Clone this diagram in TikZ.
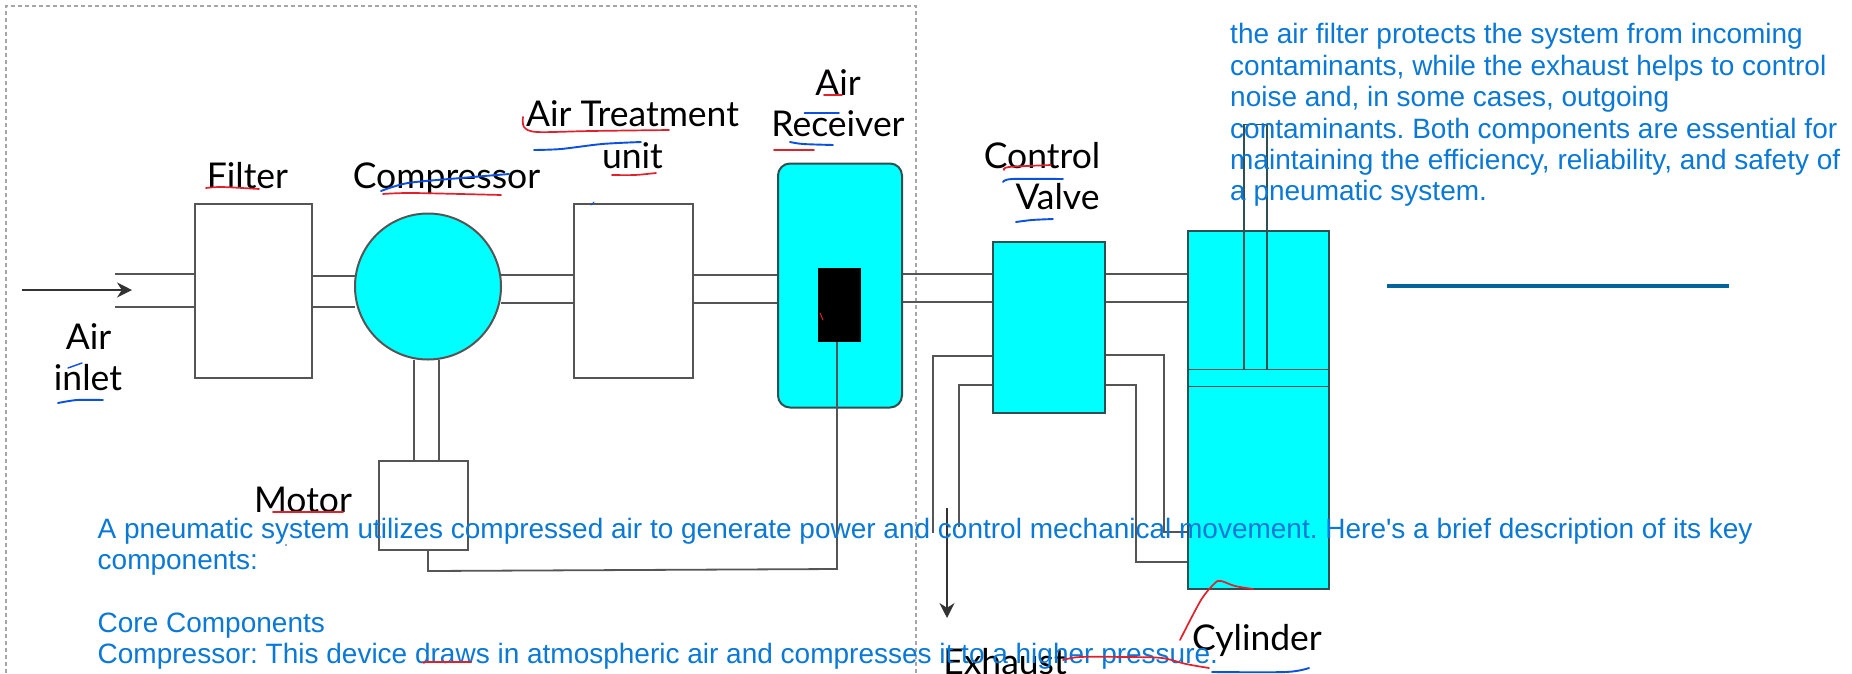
\documentclass[tikz,border=0pt]{standalone}
\usepackage{fontspec}
\setmainfont{Liberation Sans}
\newfontfamily\parafont[Ligatures=ResetAll]{Liberation Sans}
\newfontfamily\labelfont{Lato}
\usetikzlibrary{arrows.meta,backgrounds}
\definecolor{txtblue}{HTML}{0A78D6}
\definecolor{inkred}{HTML}{E2202C}
\definecolor{inkblue}{HTML}{0B50E0}
\definecolor{linegray}{HTML}{555555}
\definecolor{cyanfill}{HTML}{00FFFF}
\definecolor{cyanedge}{HTML}{2F4F50}
\definecolor{barblue}{HTML}{00659C}
\tikzset{
  x=1pt,y=-1pt,
  box/.style={draw=linegray,line width=2pt,fill=white,inner sep=0,outer sep=0},
  cyanbox/.style={box,fill=cyanfill,draw=cyanedge},
  pipe/.style={draw=linegray,line width=2.2pt},
  flowtip/.style={draw=black!80,line width=2pt,-{Stealth[length=15pt,width=15pt]}},
  lbl/.style={font=\labelfont\fontsize{35.5}{36}\selectfont,text=black,inner sep=0,anchor=base},
  para/.style={font=\parafont\frenchspacing\fontsize{28}{31.4}\selectfont,text=txtblue,inner sep=0,anchor=north west,align=left},
  redink/.style={draw=inkred,line width=1.7pt,line cap=round},
  blueink/.style={draw=inkblue,line width=1.9pt,line cap=round},
}
\begin{document}
\begin{tikzpicture}
\path[use as bounding box,clip] (0,0) rectangle (1852,673);

% equipment
\node[box,minimum width=117pt,minimum height=174pt] (filter) at (253.5,290.5) {};
\node[circle,draw=linegray,line width=2pt,fill=cyanfill,inner sep=0,outer sep=0,minimum size=146pt] (comp) at (428,286.5) {};
\node[box,minimum width=119pt,minimum height=174pt] (treat) at (633.5,290.5) {};
\node[cyanbox,rounded corners=12pt,minimum width=124pt,minimum height=244pt] (recv) at (840,285.5) {};
\node[fill=black,inner sep=0,outer sep=0,minimum width=42.5pt,minimum height=74pt] (core) at (839.5,305) {};
\node[cyanbox,minimum width=112pt,minimum height=171pt] (valve) at (1049,327) {};
\node[cyanbox,minimum width=141pt,minimum height=358pt] (cyl) at (1258.5,409.5) {};
\node[draw=cyanedge,line width=1.8pt,inner sep=0,outer sep=0,minimum width=141pt,minimum height=17pt] (piston) at (1258.5,378) {};
\node[draw=cyanedge,line width=1.8pt,inner sep=0,outer sep=0,minimum width=23pt,minimum height=245pt] (rod) at (1255.5,247) {};
\node[box,minimum width=89pt,minimum height=89pt] (motor) at (423.5,505) {};

% free ends
\coordinate (inA) at (115,274);
\coordinate (inB) at (115,307);
\coordinate (arrA) at (22,290);
\coordinate (arrB) at (132,290);
\coordinate (exA) at (947,508);
\coordinate (exB) at (947,618);
\coordinate (barA) at (1387,286);
\coordinate (barB) at (1729,286);
\coordinate (outerEnd) at (933,533);
\coordinate (innerEnd) at (959,527);
\coordinate (frameTL) at (6,6);

\begin{scope}[on background layer]
  \draw[dashed,draw=black!35,line width=1.3pt,dash pattern=on 4pt off 3pt] (6,673) -- (frameTL) -- (916,6) -- (916,673);
  \draw[pipe] (inA) -- (inA -| filter.west);
  \draw[pipe] (inB) -- (inB -| filter.west);
  \draw[pipe] (filter.east |- 0,276) -- (comp.west |- 0,276);
  \draw[pipe] (filter.east |- 0,307) -- (comp.west |- 0,307);
  \draw[pipe] (comp.east |- 0,275) -- (treat.west |- 0,275);
  \draw[pipe] (comp.east |- 0,303) -- (treat.west |- 0,303);
  \draw[pipe] (treat.east |- 0,275) -- (recv.west |- 0,275);
  \draw[pipe] (treat.east |- 0,303) -- (recv.west |- 0,303);
  \draw[pipe] (recv.east |- 0,274) -- (valve.west |- 0,274);
  \draw[pipe] (recv.east |- 0,302) -- (valve.west |- 0,302);
  \draw[pipe] (valve.east |- 0,274) -- (cyl.west |- 0,274);
  \draw[pipe] (valve.east |- 0,302) -- (cyl.west |- 0,302);
  \draw[pipe] (comp.south -| 414,0) -- (motor.north -| 414,0);
  \draw[pipe] (comp.south -| 439,0) -- (motor.north -| 439,0);
  \draw[pipe] (valve.west |- 0,356) -- (933,356) -- (outerEnd);
  \draw[pipe] (valve.west |- 0,385) -- (959,385) -- (innerEnd);
  \draw[pipe] (valve.east |- 0,355) -- (1164,355) -- (1164,532) -- (cyl.west |- 0,532);
  \draw[pipe] (valve.east |- 0,385) -- (1136,385) -- (1136,562) -- (cyl.west |- 0,562);
\end{scope}
\draw[pipe,line width=1.8pt] (core.south -| 837,0) -- (837,569) -- (428,571) -- (motor.south -| 428,0);
\draw[flowtip] (arrA) -- (arrB);
\draw[flowtip] (exA) -- (exB);
\draw[draw=barblue,line width=4pt] (barA) -- (barB);

% labels
\node[lbl] (lAir1) at (838,95) {Air};
\node[lbl] (lRecv) at (838,136) {Receiver};
\node[lbl] (lTreat) at (632.5,126) {Air Treatment};
\node[lbl] (lUnit) at (632.5,168) {unit};
\node[lbl] (lFilter) at (247.5,188) {Filter};
\node[lbl] (lComp) at (446.5,188) {Compressor};
\node[lbl] (lAir2) at (88.5,349) {Air};
\node[lbl] (lInlet) at (88,390) {inlet};
\node[lbl] (lCtrl) at (1042,168) {Control};
\node[lbl] (lValve) at (1057.5,209) {Valve};
\node[lbl] (lMotor) at (303,512) {Motor};
\node[lbl] (lCyl) at (1257,650) {Cylinder};
\node[lbl] (lExh) at (1005,674) {Exhaust};

% overlaid text
\node[para] (noteTop) at (1230,23.5) {the air filter protects the system from incoming\\
contaminants, while the exhaust helps to control\\
noise and, in some cases, outgoing\\
contaminants. Both components are essential for\\
maintaining the efficiency, reliability, and safety of\\
a pneumatic system.};
\node[para] (noteBottom) at (97.5,517.5) {A pneumatic system utilizes compressed air to generate power and control mechanical movement. Here's a brief description of its key\\
components:\\[31.4pt]
Core Components\\
Compressor: This device draws in atmospheric air and compresses it to a higher pressure.};

% handwritten marks
\draw[redink] plot[smooth] coordinates {(206,188) (222,187) (259,189)};
\draw[redink] plot[smooth] coordinates {(383,194) (413,193) (501,195)};
\draw[blueink] plot[smooth] coordinates {(381,191) (408,183) (461,178) (509,174)};
\draw[redink] plot[smooth] coordinates {(523,117) (524,127) (537,132) (591,131) (669,130)};
\draw[blueink] plot[smooth] coordinates {(534,150) (561,149) (602,144) (641,142)};
\draw[redink] plot[smooth] coordinates {(612,175) (635,175) (656,173)};
\draw[blueink,line width=1pt] (591,205) -- (594,202);
\draw[redink] (824,95) -- (842,95);
\draw[blueink] (804.5,113) -- (839,113);
\draw[blueink] plot[smooth] coordinates {(790,142) (803,144) (833,145)};
\draw[redink] (774,150) -- (814,150);
\draw[redink,line width=1pt] (820,313) -- (823,320);
\draw[blueink,line width=1.4pt] (68,368) -- (82,363);
\draw[blueink] plot[smooth] coordinates {(58,403) (77,400) (103,400)};
\draw[redink] plot[smooth] coordinates {(1004,170) (1009,167) (1051,165)};
\draw[blueink] plot[smooth] coordinates {(1003,182) (1012,179) (1063,179)};
\draw[blueink] plot[smooth] coordinates {(1016,222) (1032,220) (1053,219)};
\draw[redink] plot[smooth] coordinates {(273,512) (295,512) (343,512)};
\draw[redink] plot[smooth] coordinates {(424,663) (428,662) (471,662)};
\draw[redink] plot[smooth] coordinates {(1253,589) (1235,586) (1221,581) (1215,583) (1201,600) (1180,640)};
\draw[redink] plot[smooth] coordinates {(1063,660) (1080,657) (1127,657) (1162,658) (1186,664) (1209,668)};
\draw[blueink] plot[smooth] coordinates {(1212,672) (1286,672) (1309,668)};
\fill[inkblue] (286,545) circle (0.8pt);
\end{tikzpicture}
\end{document}
